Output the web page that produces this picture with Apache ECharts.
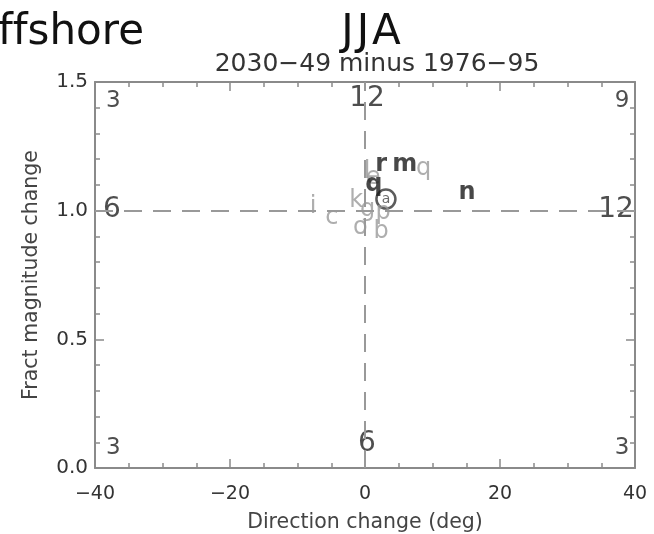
<!DOCTYPE html>
<html>
<head>
<meta charset="utf-8">
<script src="https://cdn.jsdelivr.net/npm/echarts@6/dist/echarts.min.js"></script>
<style>
html,body{margin:0;padding:0;background:#fff;}
#chart{width:654px;height:534px;}
</style>
</head>
<body>
<div id="chart"></div>
<script>
// Model letters: direction change (deg) and fractional magnitude change
const darkLetters = ['r', 'm', 'q', 'n'];
const darkDir = [2.4, 5.9, 1.3, 15.1];
const darkMag = [1.178, 1.178, 1.10, 1.069];

const lightLetters = ['q', 'l', 'e', 'k', 'i', 'c', 'g', 'p', 'o', 'b'];
const lightDir = [8.7, 0.3, 1.2, -1.3, -7.7, -4.9, 0.4, 2.7, -0.7, 2.4];
const lightMag = [1.162, 1.15, 1.127, 1.04, 1.014, 0.972, 1.003, 0.991, 0.933, 0.917];

// Ensemble mean (circled)
const meanLetter = ['a'];
const meanDir = [3.1];
const meanMag = [1.045];

// Quadrant counts
const countText = ['3', '12', '9', '6', '12', '3', '6', '3'];
const countDir = [-37.3, 0.3, 38.1, -37.5, 37.2, -37.3, 0.3, 38.1];
const countMag = [1.426, 1.436, 1.426, 1.003, 1.003, 0.078, 0.095, 0.078];
const countSize = [23, 28, 23, 28, 28, 23, 28, 23];

const xTicks = [-40, -20, 0, 20, 40];
const yTicks = [0.0, 0.5, 1.0, 1.5];

const FONT = 'DejaVu Sans';
const AX = '#8a8a8a';

function pts(xs, ys, ls) { return xs.map((x, i) => ({ value: [x, ys[i]], name: ls[i] })); }

const chart = echarts.init(document.getElementById('chart'));

const lineStyle = { show: true, onZero: false, lineStyle: { color: AX, width: 2 } };
const tickStyle = { show: true, inside: true, length: 9, lineStyle: { color: AX, width: 1.5 } };
function minor(n) { return { show: true, splitNumber: n, length: 5, lineStyle: { color: AX, width: 1.5 } }; }

const titleStyle = { fontFamily: FONT, fontWeight: 'normal', fontSize: 42, color: '#111' };

chart.setOption({
  animation: false,
  backgroundColor: '#fff',
  title: [
    {
      // zero-width non-joiner keeps the two f's as separate glyphs
      text: 'Of\u200Cfshore', right: 505, top: 7,
      textStyle: titleStyle
    },
    {
      text: '{t|J}{t|J}{t|A}', left: 366, textAlign: 'center', top: 7,
      textStyle: { rich: { t: Object.assign({ padding: [0, 1.5] }, titleStyle) } }
    },
    { text: '2030−49 minus 1976−95', left: 372, textAlign: 'center', top: 47, textStyle: { fontFamily: FONT, fontWeight: 'normal', fontSize: 25, color: '#333' } }
  ],
  grid: { left: 95, right: 19, top: 82, bottom: 66, outerBoundsMode: 'none', containLabel: false },
  xAxis: [
    {
      type: 'value', min: -40, max: 40, interval: 20,
      axisLine: lineStyle, axisTick: tickStyle, minorTick: minor(4), splitLine: { show: false },
      name: 'Direction change (deg)', nameLocation: 'middle', nameGap: 44,
      nameTextStyle: { fontFamily: FONT, fontSize: 20.5, color: '#444' },
      axisLabel: { fontFamily: FONT, fontSize: 19, color: '#333', margin: 17, formatter: v => xTicks.includes(v) ? String(v).replace('-', '−') : '' }
    },
    {
      type: 'value', min: -40, max: 40, interval: 20, position: 'top', axisLabel: { show: false },
      axisLine: lineStyle, axisTick: tickStyle, minorTick: minor(4), splitLine: { show: false }
    }
  ],
  yAxis: [
    {
      type: 'value', min: 0, max: 1.5, interval: 0.5,
      axisLine: lineStyle, axisTick: tickStyle, minorTick: minor(5), splitLine: { show: false },
      name: 'Fract magnitude change', nameLocation: 'middle', nameGap: 53, nameRotate: 90,
      nameTextStyle: { fontFamily: FONT, fontSize: 20.5, color: '#444' },
      axisLabel: { fontFamily: FONT, fontSize: 20, color: '#333', margin: 7, formatter: v => yTicks.includes(v) ? v.toFixed(1) : '' }
    },
    {
      type: 'value', min: 0, max: 1.5, interval: 0.5, position: 'right', axisLabel: { show: false },
      axisLine: lineStyle, axisTick: tickStyle, minorTick: minor(5), splitLine: { show: false }
    }
  ],
  series: [
    {
      type: 'line', data: [], silent: true,
      markLine: {
        silent: true, symbol: 'none', label: { show: false },
        lineStyle: { color: '#999', width: 2, type: [18, 11] },
        data: [
          [{ coord: [-40, 1] }, { coord: [40, 1] }],
          [{ coord: [0, 0] }, { coord: [0, 1.5] }]
        ]
      }
    },
    {
      type: 'scatter', symbolSize: 0, silent: true,
      data: countText.map((t, i) => ({
        value: [countDir[i], countMag[i]], name: t,
        label: { fontSize: countSize[i] }
      })),
      label: { show: true, position: 'inside', formatter: p => p.name, fontFamily: FONT, color: '#222' }
    },
    {
      type: 'scatter', symbolSize: 0, silent: true,
      data: pts(lightDir, lightMag, lightLetters),
      label: { show: true, position: 'inside', formatter: p => p.name, fontFamily: FONT, fontSize: 24, color: '#9a9a9a' }
    },
    {
      type: 'scatter', symbol: 'circle', symbolSize: 19, silent: true,
      itemStyle: { color: 'rgba(0,0,0,0)', borderColor: '#333', borderWidth: 2.5 },
      data: pts(meanDir, meanMag, meanLetter),
      label: { show: true, position: 'inside', formatter: p => p.name, fontFamily: FONT, fontSize: 14, color: '#444' }
    },
    {
      type: 'scatter', symbolSize: 0, silent: true,
      data: pts(darkDir, darkMag, darkLetters),
      label: { show: true, position: 'inside', formatter: p => p.name, fontFamily: FONT, fontSize: 24, fontWeight: 'bold', color: '#1a1a1a' }
    }
  ]
});
</script>
</body>
</html>
